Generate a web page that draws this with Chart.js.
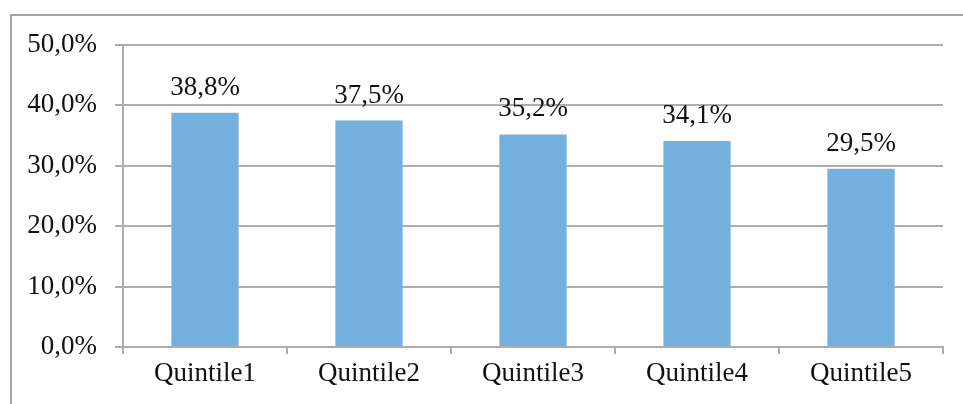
<!DOCTYPE html>
<html>
<head>
<meta charset="utf-8">
<script src="https://cdn.jsdelivr.net/npm/chart.js@4"></script>
<style>
  html, body { margin: 0; padding: 0; background: #fff; }
  #wrap { position: relative; width: 963px; height: 404px; overflow: hidden; }
  #frame {
    position: absolute; left: 10px; top: 14px; width: 1000px; height: 500px;
    border-top: 2px solid #A3A3A3; border-left: 2px solid #A3A3A3;
    pointer-events: none;
  }
  canvas { position: absolute; left: 0; top: 0; }
</style>
</head>
<body>
<div id="wrap">
  <canvas id="chart" width="963" height="404"></canvas>
  <div id="frame"></div>
</div>
<script>
const categories = ['Quintile1', 'Quintile2', 'Quintile3', 'Quintile4', 'Quintile5'];
const shares = [38.8, 37.5, 35.2, 34.1, 29.5];
const yTickLabels = ['0,0%', '10,0%', '20,0%', '30,0%', '40,0%', '50,0%'];

const serif = '"Liberation Serif", "Times New Roman", serif';
const gridGray = '#ADADAD';

function pct(v) {
  return v.toFixed(1).replace('.', ',') + '%';
}

// value labels above each bar
const barLabels = {
  id: 'barLabels',
  afterDatasetsDraw(chart) {
    const ctx = chart.ctx;
    const meta = chart.getDatasetMeta(0);
    ctx.save();
    ctx.font = '27px ' + serif;
    ctx.fillStyle = '#111';
    ctx.textAlign = 'center';
    ctx.textBaseline = 'alphabetic';
    meta.data.forEach(function(bar, i) {
      ctx.fillText(pct(shares[i]), bar.x, bar.y - 18);
    });
    ctx.restore();
  }
};

const ctx = document.getElementById('chart').getContext('2d');
const myChart = new Chart(ctx, {
  type: 'bar',
  data: {
    labels: categories,
    datasets: [{
      data: shares,
      backgroundColor: '#74B0DE',
      borderWidth: 0,
      barPercentage: 0.41,
      categoryPercentage: 1
    }]
  },
  options: {
    responsive: false,
    animation: false,
    layout: { padding: { left: 0, top: 45, right: 20, bottom: 0 } },
    plugins: {
      legend: { display: false },
      tooltip: { enabled: false }
    },
    scales: {
      x: {
        grid: {
          display: true,
          drawOnChartArea: false,
          drawTicks: true,
          tickLength: 7,
          color: gridGray,
          lineWidth: 2
        },
        border: { display: true, color: gridGray, width: 2 },
        ticks: {
          color: '#111',
          padding: 4,
          font: { family: serif, size: 27 }
        },
        afterFit: function(scale) { scale.height = 57; }
      },
      y: {
        min: 0,
        max: 50,
        grid: {
          color: gridGray,
          lineWidth: 2,
          tickLength: 8
        },
        border: { display: true, color: gridGray, width: 2 },
        ticks: {
          stepSize: 10,
          color: '#111',
          padding: 18,
          font: { family: serif, size: 27 },
          callback: function(value, index) { return yTickLabels[index]; }
        },
        afterFit: function(scale) { scale.width = 123; }
      }
    }
  },
  plugins: [barLabels]
});
</script>
</body>
</html>
